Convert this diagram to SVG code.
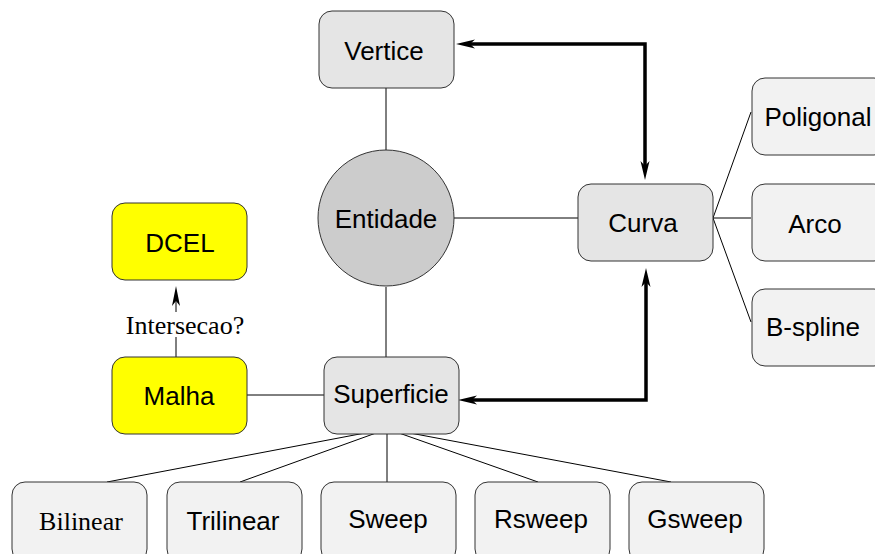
<svg xmlns="http://www.w3.org/2000/svg" width="875" height="554" viewBox="0 0 875 554">
<style>
.box{stroke:#333;stroke-width:1}
.mid{fill:#e5e5e5}
.light{fill:#f2f2f2}
.yel{fill:#ffff00}
.lbl{font-family:"Liberation Sans",Arial,sans-serif;font-size:26px;fill:#000;text-anchor:middle}
.ser{font-family:"Liberation Serif","Times New Roman",serif;font-size:26px;fill:#000;text-anchor:middle}
.thin{stroke:#000;stroke-width:1;fill:none}
.thick{stroke:#000;stroke-width:3.5;fill:none}
</style>
<defs>
<marker id="ah" markerUnits="userSpaceOnUse" markerWidth="20" markerHeight="10" refX="6" refY="4.5" orient="auto-start-reverse" viewBox="0 0 20 9">
<path d="M0,0 L19,4.5 L0,9 L5,4.5 z" fill="#000"/>
</marker>
<marker id="ahs" markerUnits="userSpaceOnUse" markerWidth="20" markerHeight="8" refX="6" refY="4" orient="auto" viewBox="0 0 20 8">
<path d="M0,0 L20,4 L0,8 L5,4 z" fill="#000"/>
</marker>
</defs>
<g id="connectors">
<line class="thin" x1="386" y1="88" x2="386" y2="150"/>
<line class="thin" x1="386" y1="287" x2="386" y2="357"/>
<line class="thin" x1="454" y1="218" x2="578" y2="218"/>
<line class="thin" x1="247" y1="395" x2="324" y2="395"/>
<line class="thin" x1="713" y1="218" x2="751" y2="112"/>
<line class="thin" x1="713" y1="218" x2="751" y2="218"/>
<line class="thin" x1="713" y1="218" x2="751" y2="322"/>
<line class="thin" x1="365" y1="433" x2="107" y2="482"/>
<line class="thin" x1="376" y1="433" x2="240" y2="482"/>
<line class="thin" x1="387" y1="433" x2="387" y2="482"/>
<line class="thin" x1="399" y1="433" x2="538" y2="482"/>
<line class="thin" x1="410" y1="433" x2="671" y2="482"/>
<path class="thick" d="M469,44 L645,44 L645,167" marker-start="url(#ah)" marker-end="url(#ah)"/>
<path class="thick" d="M471,400 L646,400 L646,281" marker-start="url(#ah)" marker-end="url(#ah)"/>
<line class="thin" x1="176" y1="357" x2="176" y2="337"/>
<line class="thin" x1="176" y1="312" x2="176" y2="300" marker-end="url(#ahs)"/>
<text class="ser" x="185" y="334">Intersecao?</text>
</g>
<g id="vertice"><rect class="box mid" x="319" y="11" width="135" height="77" rx="13"/><text class="lbl" x="384" y="60">Vertice</text></g>
<g id="entidade"><circle class="box" fill="#cccccc" cx="386" cy="218" r="68"/><text class="lbl" x="386" y="228">Entidade</text></g>
<g id="curva"><rect class="box mid" x="578" y="184" width="135" height="77" rx="13"/><text class="lbl" x="643" y="232">Curva</text></g>
<g id="poligonal"><rect class="box light" x="752" y="78" width="135" height="77" rx="13"/><text class="lbl" x="818" y="126">Poligonal</text></g>
<g id="arco"><rect class="box light" x="752" y="184" width="135" height="77" rx="13"/><text class="lbl" x="815" y="233">Arco</text></g>
<g id="bspline"><rect class="box light" x="752" y="289" width="135" height="77" rx="13"/><text class="lbl" x="813" y="336">B-spline</text></g>
<g id="dcel"><rect class="box yel" x="112" y="203" width="135" height="77" rx="13"/><text class="lbl" x="180" y="252">DCEL</text></g>
<g id="malha"><rect class="box yel" x="112" y="357" width="135" height="77" rx="13"/><text class="lbl" x="179" y="405">Malha</text></g>
<g id="superficie"><rect class="box mid" x="324" y="357" width="135" height="77" rx="13"/><text class="lbl" x="391" y="403">Superficie</text></g>
<g id="bilinear"><rect class="box light" x="12" y="482" width="135" height="80" rx="13"/><text class="ser" x="81" y="530">Bilinear</text></g>
<g id="trilinear"><rect class="box light" x="167" y="482" width="135" height="80" rx="13"/><text class="lbl" x="233" y="530">Trilinear</text></g>
<g id="sweep"><rect class="box light" x="321" y="482" width="135" height="80" rx="13"/><text class="lbl" x="388" y="528">Sweep</text></g>
<g id="rsweep"><rect class="box light" x="475" y="482" width="135" height="80" rx="13"/><text class="lbl" x="541" y="528">Rsweep</text></g>
<g id="gsweep"><rect class="box light" x="629" y="482" width="135" height="80" rx="13"/><text class="lbl" x="695" y="528">Gsweep</text></g>
</svg>
